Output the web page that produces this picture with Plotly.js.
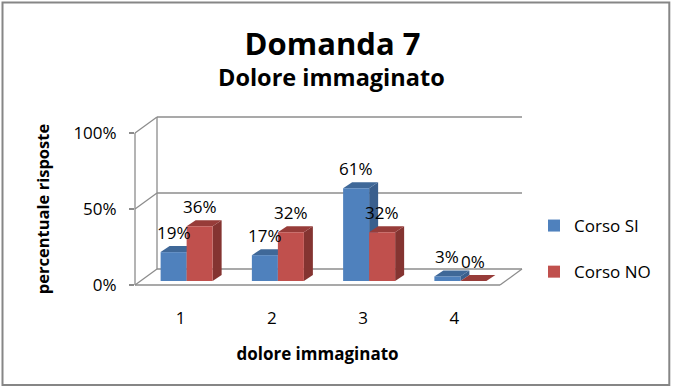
<!DOCTYPE html>
<html>
<head>
<meta charset="utf-8">
<script src="https://cdn.plot.ly/plotly-3.0.1.min.js"></script>
<style>html,body{margin:0;padding:0;background:#fff;}#chart{width:673px;height:389px;}</style>
</head>
<body>
<div id="chart"></div>
<script>
// ---- data ----
const categories = ['1', '2', '3', '4'];
const categoryPos = [1, 2, 3, 4];
const corsoSI = [0.19, 0.17, 0.61, 0.03];
const corsoNO = [0.36, 0.32, 0.32, 0.00];
const seriesNames = ['Corso SI', 'Corso NO'];
const yTickVals = [0, 0.5, 1];
const yTickText = ['0%', '50%', '100%'];
const chartTitle = 'Domanda 7';
const chartSubtitle = 'Dolore immaginato';
const xTitle = 'dolore immaginato';
const yTitle = 'percentuale risposte';

// ---- layout constants ----
const W = 673, H = 389, L = 135, R = 173, T = 133, B = 104;
const PW = W - L - R, PH = H - T - B;
const WALL_DX = 22, WALL_DY = 16;       // back-wall depth in px
const BAR_DX = 9, BAR_DY = 6;           // bar depth in px
const BAR_SHIFT_X = 6, BAR_SHIFT_Y = 4; // bars set back from front plane
const BARGAP = 0.43;
const unitPx = PW / 4;
const barW = (1 - BARGAP) / 2;

const frontColors = ['#4F81BD', '#C0504D'];
const sideColors = ['#3A5F8D', '#843431'];
const topColors = ['#3F6898', '#973C39'];
const wallColor = '#8C8C8C';
const FONT = '"Open Sans", sans-serif';

const px2x = px => (px - L) / PW;
const py2y = py => (H - B - py) / PH;
const vy = v => (H - B) - v * PH;

const xr2 = [0.5 - BAR_SHIFT_X / unitPx, 4.5 - BAR_SHIFT_X / unitPx];
const yr2 = [-BAR_SHIFT_Y / PH, 1 - BAR_SHIFT_Y / PH];

const seriesVals = [corsoSI, corsoNO];
const traces = seriesVals.map((vals, i) => ({
  type: 'bar',
  name: seriesNames[i],
  x: categoryPos,
  y: vals,
  xaxis: 'x2', yaxis: 'y2',
  marker: {color: frontColors[i], line: {width: 0}},
  legendgroup: 'g' + i,
  hoverinfo: 'skip'
}));
// empty trace so the visible front axes (x, y) get drawn
traces.unshift({type: 'scatter', x: [], y: [], xaxis: 'x', yaxis: 'y',
  showlegend: false, hoverinfo: 'skip'});

const shapes = [];
const wallLine = {color: wallColor, width: 1.3};
function seg(x0, y0, x1, y1) {
  shapes.push({type: 'line', xref: 'paper', yref: 'paper', layer: 'below',
    x0: px2x(x0), y0: py2y(y0), x1: px2x(x1), y1: py2y(y1), line: wallLine});
}
const xFrontL = L, xFrontR = W - R;
yTickVals.forEach(v => {
  const y = vy(v);
  seg(xFrontL + WALL_DX, y - WALL_DY, xFrontR + WALL_DX, y - WALL_DY);
  seg(xFrontL, y, xFrontL + WALL_DX, y - WALL_DY);
});
seg(xFrontL, vy(1), xFrontL, vy(0));
seg(xFrontL + WALL_DX, vy(1) - WALL_DY, xFrontL + WALL_DX, vy(0) - WALL_DY);
seg(xFrontL, vy(0), xFrontR, vy(0));
seg(xFrontR, vy(0), xFrontR + WALL_DX, vy(0) - WALL_DY);

// bar depth faces
const dxD = BAR_DX / unitPx, dyD = BAR_DY / PH;
seriesVals.forEach((vals, i) => {
  vals.forEach((v, j) => {
    const left = categoryPos[j] - barW + i * barW;
    const right = left + barW;
    shapes.push({type: 'path', xref: 'x2', yref: 'y2', layer: 'below',
      path: `M${right},0 L${right},${v} L${right + dxD},${v + dyD} L${right + dxD},${dyD} Z`,
      fillcolor: sideColors[i], line: {width: 0}});
    shapes.push({type: 'path', xref: 'x2', yref: 'y2', layer: 'below',
      path: `M${left},${v} L${right},${v} L${right + dxD},${v + dyD} L${left + dxD},${v + dyD} Z`,
      fillcolor: topColors[i], line: {width: 0}});
  });
});

// outer border
shapes.push({type: 'rect', xref: 'paper', yref: 'paper', layer: 'above',
  x0: px2x(2.5), y0: py2y(2.5), x1: px2x(669.3), y1: py2y(385),
  line: {color: '#868686', width: 2}});

// value labels + subtitle
const annotations = [];
seriesVals.forEach((vals, i) => {
  vals.forEach((v, j) => {
    annotations.push({xref: 'x2', yref: 'y2',
      x: categoryPos[j] - barW / 2 + i * barW, y: v,
      text: Math.round(v * 100) + '%', showarrow: false,
      yanchor: 'middle', xanchor: 'center', yshift: 20,
      font: {family: FONT, size: 17, color: '#000'}});
  });
});
annotations.push({xref: 'paper', yref: 'paper', x: px2x(331), y: py2y(77),
  xanchor: 'center', yanchor: 'middle', showarrow: false,
  text: '<b>' + chartSubtitle + '</b>', font: {family: FONT, size: 23.5, color: '#000'}});

const layout = {
  width: W, height: H,
  margin: {l: L, r: R, t: T, b: B, pad: 0},
  paper_bgcolor: '#fff', plot_bgcolor: 'rgba(0,0,0,0)',
  font: {family: FONT, color: '#000'},
  title: {
    text: '<b>' + chartTitle + '</b>',
    font: {family: FONT, size: 31, color: '#000'},
    xref: 'container', x: 332.5 / W, xanchor: 'center',
    yref: 'container', y: 1 - 44 / H, yanchor: 'middle'
  },
  barmode: 'group', bargap: BARGAP, bargroupgap: 0,
  xaxis: {
    range: [0.5, 4.5], tickvals: categoryPos, ticktext: categories,
    showgrid: false, zeroline: false, showline: false, ticks: '',
    ticklabelstandoff: 21,
    tickfont: {family: FONT, size: 17, color: '#000'},
    title: {text: '<b>' + xTitle + '</b>', font: {family: FONT, size: 17, color: '#000'}, standoff: 20},
    fixedrange: true
  },
  yaxis: {
    range: [0, 1], tickvals: yTickVals, ticktext: yTickText,
    showgrid: false, zeroline: false, showline: false,
    ticks: 'outside', ticklen: 5, tickcolor: wallColor, tickwidth: 1.3,
    ticklabelstandoff: 9,
    tickfont: {family: FONT, size: 17, color: '#000'},
    title: {text: '<b>' + yTitle + '</b>', font: {family: FONT, size: 16.5, color: '#000'}, standoff: 19},
    fixedrange: true
  },
  xaxis2: {overlaying: 'x', range: xr2, visible: false, fixedrange: true},
  yaxis2: {overlaying: 'y', range: yr2, visible: false, fixedrange: true},
  showlegend: true,
  legend: {
    x: px2x(534), xanchor: 'left', y: py2y(208), yanchor: 'top',
    traceorder: 'grouped', tracegroupgap: 21,
    font: {family: FONT, size: 17, color: '#000'},
    bgcolor: 'rgba(0,0,0,0)'
  },
  shapes: shapes,
  annotations: annotations
};

Plotly.newPlot('chart', traces, layout, {displayModeBar: false, staticPlot: true});
</script>
</body>
</html>
